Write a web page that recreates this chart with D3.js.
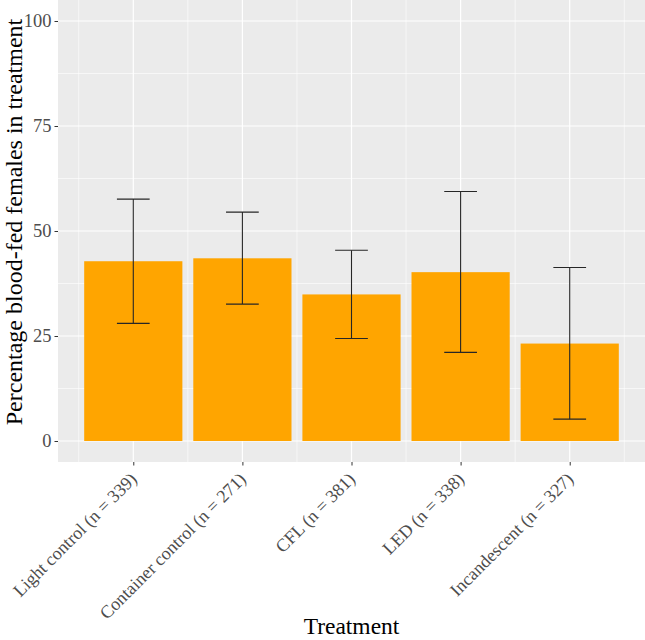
<!DOCTYPE html>
<html>
<head>
<meta charset="utf-8">
<script src="https://cdn.jsdelivr.net/npm/d3@7"></script>
<style>
  body { margin: 0; background: #fff; }
  svg text { font-family: "Liberation Serif", "Times New Roman", serif !important; }
</style>
</head>
<body>
<div id="chart"></div>
<script>
const width = 645;
const height = 640;

const treatments = ["Light control (n = 339)", "Container control (n = 271)", "CFL (n = 381)", "LED (n = 338)", "Incandescent (n = 327)"];
const percents = [42.8, 43.5, 34.9, 40.2, 23.2];
const lower = [28.0, 32.6, 24.4, 21.1, 5.2];
const upper = [57.6, 54.5, 45.4, 59.4, 41.3];
const yTicks = [0, 25, 50, 75, 100];

const data = treatments.map((t, i) => ({ name: t, value: percents[i], lo: lower[i], hi: upper[i] }));

const panel = { left: 58, right: 645, top: 0, bottom: 462 };

const svg = d3.select("#chart").append("svg")
  .attr("width", width)
  .attr("height", height);

// positions 1..5, panel spans 0.31 .. 5.69
const xPos = d3.scaleLinear()
  .domain([0.31, 5.69])
  .range([panel.left, panel.right]);
const unit = xPos(2) - xPos(1);

const yScale = d3.scaleLinear()
  .domain([-5, 105])
  .range([panel.bottom, panel.top]);

svg.append("rect")
  .attr("x", panel.left)
  .attr("y", panel.top)
  .attr("width", panel.right - panel.left)
  .attr("height", panel.bottom - panel.top)
  .attr("fill", "#ebebeb");

// minor grid
const minorY = [12.5, 37.5, 62.5, 87.5];
svg.selectAll(".minor-y").data(minorY).enter().append("line")
  .attr("x1", panel.left).attr("x2", panel.right)
  .attr("y1", d => yScale(d)).attr("y2", d => yScale(d))
  .attr("stroke", "#fff").attr("stroke-width", 0.6);
const minorX = [0.5, 1.5, 2.5, 3.5, 4.5, 5.5];
svg.selectAll(".minor-x").data(minorX).enter().append("line")
  .attr("y1", panel.top).attr("y2", panel.bottom)
  .attr("x1", d => xPos(d)).attr("x2", d => xPos(d))
  .attr("stroke", "#fff").attr("stroke-width", 0.6);

// major grid
svg.selectAll(".major-y").data(yTicks).enter().append("line")
  .attr("x1", panel.left).attr("x2", panel.right)
  .attr("y1", d => yScale(d)).attr("y2", d => yScale(d))
  .attr("stroke", "#fff").attr("stroke-width", 1.2);
svg.selectAll(".major-x").data(data).enter().append("line")
  .attr("y1", panel.top).attr("y2", panel.bottom)
  .attr("x1", (d, i) => xPos(i + 1)).attr("x2", (d, i) => xPos(i + 1))
  .attr("stroke", "#fff").attr("stroke-width", 1.2);

// bars
svg.selectAll(".bar").data(data).enter().append("rect")
  .attr("x", (d, i) => xPos(i + 1) - unit * 0.45)
  .attr("width", unit * 0.9)
  .attr("y", d => yScale(d.value))
  .attr("height", d => yScale(0) - yScale(d.value))
  .attr("fill", "#ffa500");

// error bars
const err = svg.selectAll(".err").data(data).enter().append("g")
  .attr("stroke", "#262626").attr("stroke-width", 1.1);
err.append("line")
  .attr("x1", (d, i) => xPos(i + 1)).attr("x2", (d, i) => xPos(i + 1))
  .attr("y1", d => yScale(d.lo)).attr("y2", d => yScale(d.hi));
err.append("line")
  .attr("x1", (d, i) => xPos(i + 1) - unit * 0.15).attr("x2", (d, i) => xPos(i + 1) + unit * 0.15)
  .attr("y1", d => yScale(d.lo)).attr("y2", d => yScale(d.lo));
err.append("line")
  .attr("x1", (d, i) => xPos(i + 1) - unit * 0.15).attr("x2", (d, i) => xPos(i + 1) + unit * 0.15)
  .attr("y1", d => yScale(d.hi)).attr("y2", d => yScale(d.hi));

// y axis
const yAxis = svg.append("g")
  .attr("transform", `translate(${panel.left},0)`)
  .call(d3.axisLeft(yScale).tickValues(yTicks).tickSize(3.5).tickPadding(3));
yAxis.attr("font-family", "Liberation Serif, serif");
yAxis.select(".domain").remove();
yAxis.selectAll(".tick line").attr("stroke", "#333");
yAxis.selectAll(".tick text")
  .attr("fill", "#4d4d4d")
  .attr("font-size", 18.5);

// x axis
const xAxis = svg.append("g")
  .attr("transform", `translate(0,${panel.bottom})`)
  .call(d3.axisBottom(xPos).tickValues([1, 2, 3, 4, 5]).tickSize(3.5).tickFormat((d) => treatments[d - 1]));
xAxis.attr("font-family", "Liberation Serif, serif");
xAxis.select(".domain").remove();
xAxis.selectAll(".tick line").attr("stroke", "#333");
xAxis.selectAll(".tick text")
  .attr("fill", "#4d4d4d")
  .attr("font-size", 18)
  .attr("text-anchor", "end")
  .attr("x", 0)
  .attr("y", 0)
  .attr("dy", "0.72em")
  .attr("transform", "translate(-5,9) rotate(-45)");

// axis titles
svg.append("text")
  .attr("x", (panel.left + panel.right) / 2)
  .attr("y", 634)
  .attr("text-anchor", "middle")
  .attr("font-size", 23.5)
  .attr("fill", "#000")
  .text("Treatment");

svg.append("text")
  .attr("transform", `translate(22,${(panel.top + panel.bottom) / 2 - 9}) rotate(-90)`)
  .attr("text-anchor", "middle")
  .attr("font-size", 24)
  .attr("fill", "#000")
  .text("Percentage blood-fed females in treatment");
</script>
</body>
</html>
